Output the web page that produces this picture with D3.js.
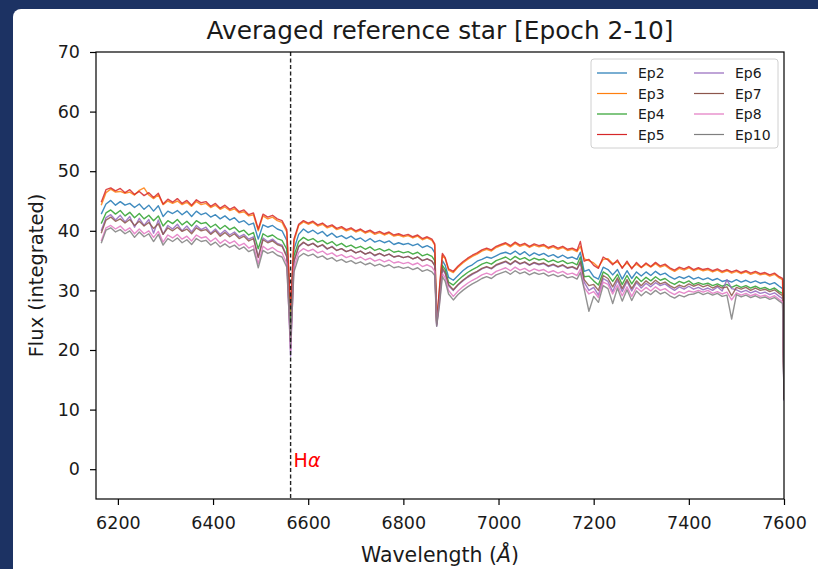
<!DOCTYPE html>
<html><head><meta charset="utf-8">
<script src="https://cdn.jsdelivr.net/npm/d3@7"></script>
<style>body{margin:0;background:#fff}svg{display:block}text{font-family:"DejaVu Sans",sans-serif}</style>
</head><body><svg id="chart" width="818" height="569"></svg>
<script>
const wavelengths=[6165,6175,6185,6195,6205,6215,6225,6235,6245,6255,6265,6275,6285,6295,6305,6315,6325,6335,6345,6355,6365,6375,6385,6395,6405,6415,6425,6435,6445,6455,6465,6475,6485,6495,6505,6515,6525,6535,6545,6555,6563,6570,6580,6590,6600,6610,6620,6630,6640,6650,6660,6670,6680,6690,6700,6710,6720,6730,6740,6750,6760,6770,6780,6790,6800,6810,6820,6830,6840,6850,6860,6866,6870,6876,6882,6888,6895,6905,6915,6925,6935,6945,6955,6965,6975,6985,6995,7005,7015,7025,7035,7045,7055,7065,7075,7085,7095,7105,7115,7125,7135,7145,7155,7165,7172,7180,7190,7200,7210,7220,7230,7240,7250,7260,7270,7280,7290,7300,7310,7320,7330,7340,7350,7360,7370,7380,7390,7400,7410,7420,7430,7440,7450,7460,7470,7480,7490,7500,7510,7520,7530,7540,7550,7560,7570,7580,7590,7597,7600];

const ep2=[42.8,44.5,45.1,44.3,44.9,44.3,44.6,43.9,44.5,43.6,44.3,43.3,44.2,42.4,
43.3,42.9,43.4,42.7,43.3,42.4,43.3,42.7,43.0,42.3,42.7,42.0,42.5,41.8,42.2,41.4,41.7,41.0,41.3,38.6,41.0,40.6,40.9,40.3,40.0,38.4,
25.0,
36.9,39.4,40.3,39.7,40.1,39.5,39.9,39.1,39.6,38.9,39.2,38.7,39.1,38.5,38.8,38.2,38.7,38.1,38.4,38.0,38.3,37.7,38.0,37.7,37.9,37.5,37.8,37.2,37.5,37.1,36.3,
24.3,29.5,35.0,34.2,32.2,
31.7,32.5,33.3,33.9,34.3,34.9,35.2,35.6,35.4,35.8,36.2,36.4,36.1,36.6,36.0,36.5,35.8,36.3,35.9,36.2,35.7,36.0,35.5,35.9,35.4,35.6,35.2,36.4,
33.2,33.5,32.3,31.9,33.9,33.5,32.6,33.5,31.9,33.3,32.0,33.1,32.4,33.1,32.5,33.2,32.6,32.9,32.3,31.9,32.3,32.0,32.4,
31.9,32.2,31.8,32.1,31.7,32.0,31.5,31.7,31.4,31.8,31.4,31.7,31.3,31.6,31.2,31.4,31.0,31.3,30.7,30.3,
12.0];

const ep3=[44.3,46.4,47.0,46.5,46.6,46.3,46.5,46.0,46.8,47.2,46.0,45.4,46.0,44.4,
45.0,44.6,45.0,44.4,44.8,44.1,44.9,44.4,44.6,43.9,44.3,43.6,44.0,43.4,43.7,43.0,43.2,42.5,42.7,40.0,42.5,42.0,42.3,41.7,41.4,39.8,
26.0,
38.2,40.9,41.5,41.1,41.4,40.8,41.1,40.5,40.8,40.2,40.5,40.0,40.3,39.8,40.1,39.6,39.9,39.4,39.7,39.3,39.6,39.1,39.3,39.0,39.2,38.8,39.1,38.5,38.8,38.4,37.6,
24.8,30.2,35.9,35.3,33.4,
33.0,33.9,34.6,35.2,35.7,36.1,36.6,36.9,36.6,37.2,37.5,37.8,37.3,37.9,37.4,37.7,37.2,37.6,37.3,37.5,37.0,37.3,36.9,37.2,36.7,36.9,36.5,37.4,
35.3,35.0,34.6,33.9,35.2,35.3,34.5,34.8,33.9,34.6,33.8,34.4,33.8,34.4,33.9,34.5,33.9,34.2,33.6,33.2,33.7,33.4,33.8,
33.3,33.6,33.3,33.5,33.1,33.4,33.0,33.3,32.9,33.2,32.8,33.1,32.7,33.0,32.6,32.8,32.4,32.7,32.1,31.8,
12.2];

const ep4=[41.2,43.0,43.5,42.8,43.4,42.5,43.1,42.2,42.9,42.0,42.6,41.7,42.5,40.8,
41.7,41.2,41.9,41.0,41.6,40.8,41.7,41.2,41.4,40.6,41.1,40.3,40.9,40.2,40.6,39.8,40.1,39.3,39.7,37.0,39.5,39.0,39.3,38.7,38.4,36.9,
23.0,
35.8,38.2,38.9,38.4,38.7,38.1,38.4,37.8,38.2,37.5,37.9,37.3,37.6,37.1,37.4,36.9,37.3,36.7,37.0,36.6,36.9,36.4,36.6,36.3,36.5,36.1,36.4,35.8,36.1,35.7,35.0,
24.6,29.0,34.2,33.5,31.4,
30.9,31.7,32.4,33.0,33.5,33.9,34.4,34.7,34.4,35.0,35.3,35.6,35.1,35.7,35.2,35.5,35.0,35.4,35.1,35.3,34.8,35.1,34.7,35.0,34.5,34.7,34.3,35.6,
32.3,32.4,31.6,30.9,33.1,32.6,31.5,32.7,31.0,32.5,31.1,32.3,31.5,32.2,31.6,32.3,31.7,32.0,31.4,31.0,31.5,31.2,31.6,
31.0,31.3,31.0,31.2,30.8,31.1,30.7,31.0,30.5,30.9,30.5,30.8,30.4,30.7,30.3,30.5,30.1,30.4,29.8,29.5,
12.3];

const ep5=[44.8,46.9,47.2,46.7,47.1,46.4,46.9,46.1,46.6,45.9,46.4,45.6,46.3,44.5,
45.3,44.8,45.4,44.6,45.1,44.3,45.2,44.7,44.9,44.1,44.6,43.8,44.3,43.6,44.0,43.2,43.5,42.7,43.0,40.3,42.8,42.3,42.6,42.0,41.7,40.2,
27.0,
38.6,41.1,41.7,41.3,41.6,41.0,41.3,40.7,41.0,40.4,40.7,40.2,40.5,40.0,40.3,39.8,40.1,39.6,39.9,39.5,39.8,39.3,39.5,39.2,39.4,39.0,39.3,38.7,39.0,38.6,37.8,
24.5,30.5,36.2,35.5,33.6,
33.2,34.1,34.8,35.4,35.9,36.3,36.8,37.1,36.8,37.4,37.7,38.0,37.5,38.1,37.6,37.9,37.4,37.8,37.5,37.7,37.2,37.5,37.1,37.4,36.9,37.1,36.7,38.2,
34.9,35.2,34.2,33.7,35.6,35.1,34.3,35.1,33.7,34.9,33.6,34.7,33.9,34.6,34.0,34.7,34.1,34.4,33.8,33.4,33.9,33.6,34.0,
33.5,33.8,33.5,33.7,33.3,33.6,33.2,33.5,33.1,33.4,33.0,33.3,32.9,33.2,32.8,33.0,32.6,32.9,32.3,32.0,
12.5];

const ep6=[40.0,42.2,42.7,41.8,42.6,41.5,42.4,40.6,42.1,40.9,41.9,39.6,41.8,39.4,
40.9,40.3,41.1,40.0,40.8,39.8,40.9,40.2,40.6,39.6,40.3,39.4,40.1,39.3,39.8,39.0,39.4,38.6,39.0,35.6,38.8,38.2,38.6,37.9,37.6,35.8,
19.0,
34.8,37.3,38.0,37.6,37.9,37.3,37.6,36.9,37.4,36.7,37.0,36.5,36.8,36.3,36.6,36.1,36.4,35.8,36.2,35.8,36.1,35.6,35.8,35.5,35.7,35.3,35.6,35.0,35.3,34.9,34.2,
24.0,28.5,33.5,32.8,30.8,
30.0,30.9,31.6,32.2,32.7,33.1,33.6,33.9,33.6,34.2,34.5,34.8,34.3,34.9,34.4,34.7,34.2,34.6,34.3,34.5,34.0,34.3,33.9,34.2,33.7,33.9,33.5,34.6,
31.4,30.0,30.5,29.2,32.0,31.5,29.8,31.7,29.8,31.5,29.9,31.3,30.4,31.2,30.6,31.3,30.8,31.1,30.5,30.0,30.6,30.2,30.7,
30.2,30.5,30.1,30.4,30.0,30.6,29.9,31.8,30.3,30.1,29.7,30.0,29.6,29.9,29.5,29.7,29.3,29.6,29.0,28.6,
11.5];

const ep7=[39.6,41.8,42.3,41.6,42.0,41.3,41.9,40.9,41.6,40.8,41.4,40.4,41.2,39.4,
40.5,40.0,40.6,39.9,40.3,39.5,40.5,40.0,40.2,39.4,40.0,39.1,39.7,39.0,39.5,38.7,39.1,38.3,38.7,35.5,38.5,38.0,38.3,37.7,37.4,35.6,
21.5,
34.9,37.4,38.1,37.5,37.9,37.3,37.7,37.0,37.3,36.7,37.0,36.5,36.8,36.3,36.6,36.1,36.4,35.9,36.2,35.8,36.1,35.6,35.8,35.5,35.7,35.3,35.6,35.0,35.3,34.9,34.1,
24.4,28.8,33.8,33.0,31.0,
30.1,31.0,31.7,32.3,32.8,33.2,33.7,34.0,33.7,34.3,34.6,34.9,34.4,35.0,34.5,34.8,34.3,34.7,34.4,34.6,34.1,34.4,34.0,34.3,33.8,34.0,33.6,34.9,
31.8,30.8,31.0,30.0,32.5,32.0,30.6,32.1,30.3,31.8,30.3,31.6,30.8,31.6,31.0,31.7,31.1,31.4,30.8,30.4,30.9,30.6,31.1,
30.7,31.0,30.6,30.9,30.4,30.8,30.4,30.6,29.1,30.5,30.2,30.5,30.0,30.4,30.0,30.2,29.8,30.1,29.5,29.1,
11.8];

const ep8=[38.3,40.5,40.9,40.3,40.8,40.0,40.5,39.5,40.3,39.5,40.0,38.9,39.9,38.1,
39.3,38.8,39.4,38.6,39.1,38.3,39.3,38.8,39.0,38.2,38.8,37.9,38.5,37.9,38.3,37.5,37.9,37.1,37.5,34.5,37.4,36.8,37.2,36.6,36.3,34.5,
20.0,
33.9,36.4,37.0,36.6,36.9,36.3,36.6,36.0,36.3,35.7,36.0,35.5,35.8,35.3,35.6,35.1,35.4,34.9,35.2,34.8,35.1,34.6,34.8,34.5,34.7,34.3,34.6,34.0,34.3,33.9,33.2,
24.2,28.0,32.8,32.1,30.0,
29.0,29.9,30.6,31.2,31.7,32.1,32.6,32.9,32.6,33.2,33.5,33.8,33.3,33.9,33.4,33.7,33.2,33.6,33.3,33.5,33.0,33.3,32.9,33.2,32.7,32.9,32.5,33.6,
30.5,29.4,29.8,28.8,31.4,31.0,29.4,30.9,29.1,30.6,29.0,30.5,29.8,30.5,29.9,30.6,30.0,30.3,29.7,29.3,29.8,29.5,29.9,
29.7,30.0,29.7,30.0,29.5,29.8,29.4,29.7,28.4,29.6,29.2,29.5,29.1,29.4,29.0,29.2,28.8,29.1,28.5,28.1,
12.0];

const ep10=[37.9,40.1,40.5,39.8,40.2,39.5,40.0,38.9,39.8,39.0,39.5,38.2,39.4,37.6,
38.7,38.2,38.8,38.0,38.5,37.7,38.7,38.2,38.4,37.6,38.1,37.3,37.8,37.2,37.6,36.9,37.3,36.5,36.9,33.8,36.7,36.2,36.5,35.9,35.6,33.9,
21.0,
33.1,35.6,36.2,35.8,36.1,35.5,35.8,35.2,35.5,34.9,35.2,34.7,35.0,34.5,34.8,34.3,34.6,34.1,34.4,34.0,34.3,33.8,34.0,33.7,33.9,33.5,33.8,33.2,33.5,33.1,32.5,
24.0,27.6,32.3,31.5,29.4,
28.4,29.3,30.0,30.6,31.1,31.5,32.0,32.3,32.0,32.6,32.9,33.2,32.7,33.3,32.8,33.1,32.6,33.0,32.7,32.9,32.4,32.7,32.3,32.6,32.1,32.3,31.9,33.0,
30.2,26.5,29.0,28.0,30.8,30.3,27.8,30.4,28.2,30.1,28.3,29.9,29.1,29.8,29.3,30.0,29.4,29.7,29.1,28.7,29.2,28.9,29.3,
29.4,29.7,29.3,29.6,29.2,29.5,29.0,29.2,25.2,29.3,28.9,29.2,28.8,29.1,28.7,28.9,28.5,28.8,28.2,27.8,
11.6];

const seriesNames=["Ep2","Ep3","Ep4","Ep5","Ep6","Ep7","Ep8","Ep10"];
const seriesValues=[ep2,ep3,ep4,ep5,ep6,ep7,ep8,ep10];
const seriesColors=["#1f77b4","#ff7f0e","#2ca02c","#d62728","#9467bd","#8c564b","#e377c2","#7f7f7f"];
const xTicks=[6200,6400,6600,6800,7000,7200,7400,7600];
const yTicks=[0,10,20,30,40,50,60,70];
const hAlphaWavelength=6563;
const titleText="Averaged reference star [Epoch 2-10]";

const svg=d3.select("#chart");
svg.append("rect").attr("x",0).attr("y",0).attr("width",818).attr("height",569).attr("fill","#1c3263");
svg.append("rect").attr("x",13).attr("y",9).attr("width",830).attr("height",590).attr("rx",8).attr("fill","#ffffff");

const L=96,R=784,T=52,B=499;
const x=d3.scaleLinear().domain([6154,7600]).range([L,R]);
const y=d3.scaleLinear().domain([-5,70]).range([B,T]);

svg.append("defs").append("clipPath").attr("id","clip").append("rect")
  .attr("x",L).attr("y",T).attr("width",R-L).attr("height",B-T);

const line=d3.line().x((d,i)=>x(wavelengths[i])).y(d=>y(d));
const g=svg.append("g").attr("clip-path","url(#clip)");
seriesValues.forEach((vals,k)=>{
  g.append("path").datum(vals).attr("d",line).attr("fill","none")
   .attr("stroke",seriesColors[k]).attr("stroke-width",1.4).attr("stroke-opacity",0.85)
   .attr("stroke-linejoin","round");
});

svg.append("line").attr("x1",x(hAlphaWavelength)).attr("x2",x(hAlphaWavelength))
  .attr("y1",T).attr("y2",B).attr("stroke","#222").attr("stroke-width",1.4)
  .attr("stroke-dasharray","4,2.5");
const ha=svg.append("text").attr("x",x(hAlphaWavelength)+3).attr("y",y(0)-2)
  .attr("fill","#ff0000").attr("font-size",19);
ha.append("tspan").text("H");
ha.append("tspan").attr("font-style","italic").text("α");

const xAxis=d3.axisBottom(x).tickValues(xTicks).tickFormat(d3.format("d")).tickSize(6).tickPadding(12);
const yAxis=d3.axisLeft(y).tickValues(yTicks).tickFormat(d3.format("d")).tickSize(6).tickPadding(10);
const gx=svg.append("g").attr("transform",`translate(0,${B})`).call(xAxis);
const gy=svg.append("g").attr("transform",`translate(${L},0)`).call(yAxis);
[gx,gy].forEach(a=>{
  a.select(".domain").remove();
  a.selectAll("line").attr("stroke","#000").attr("stroke-width",1.2);
  a.selectAll("text").attr("font-size",17.5).attr("fill","#1a1a1a").attr("font-family","DejaVu Sans, sans-serif");
});
svg.append("rect").attr("x",L).attr("y",T).attr("width",R-L).attr("height",B-T)
  .attr("fill","none").attr("stroke","#000").attr("stroke-width",1.2);

svg.append("text").attr("x",(L+R)/2).attr("y",39).attr("text-anchor","middle")
  .attr("font-size",24.8).attr("fill","#1a1a1a").text(titleText);
const xl=svg.append("text").attr("x",(L+R)/2).attr("y",562).attr("text-anchor","middle")
  .attr("font-size",20.5).attr("fill","#1a1a1a");
xl.append("tspan").text("Wavelength (");
xl.append("tspan").attr("font-style","italic").text("Å");
xl.append("tspan").text(")");
svg.append("text").attr("transform",`translate(43,${(T+B)/2}) rotate(-90)`).attr("text-anchor","middle")
  .attr("font-size",19.5).attr("fill","#1a1a1a").text("Flux (integrated)");

const lg=svg.append("g");
lg.append("rect").attr("x",591).attr("y",59).attr("width",187).attr("height",89).attr("rx",3)
  .attr("fill","#fff").attr("fill-opacity",0.8).attr("stroke","#d0d0d0").attr("stroke-width",1);
seriesNames.forEach((n,k)=>{
  const col=Math.floor(k/4), row=k%4;
  const lx=597+col*97, ly=73+row*20.5;
  lg.append("line").attr("x1",lx).attr("x2",lx+30).attr("y1",ly).attr("y2",ly)
    .attr("stroke",seriesColors[k]).attr("stroke-width",1.2);
  lg.append("text").attr("x",lx+41).attr("y",ly+5).attr("font-size",14).attr("fill","#1a1a1a").text(n);
});
</script></body></html>
